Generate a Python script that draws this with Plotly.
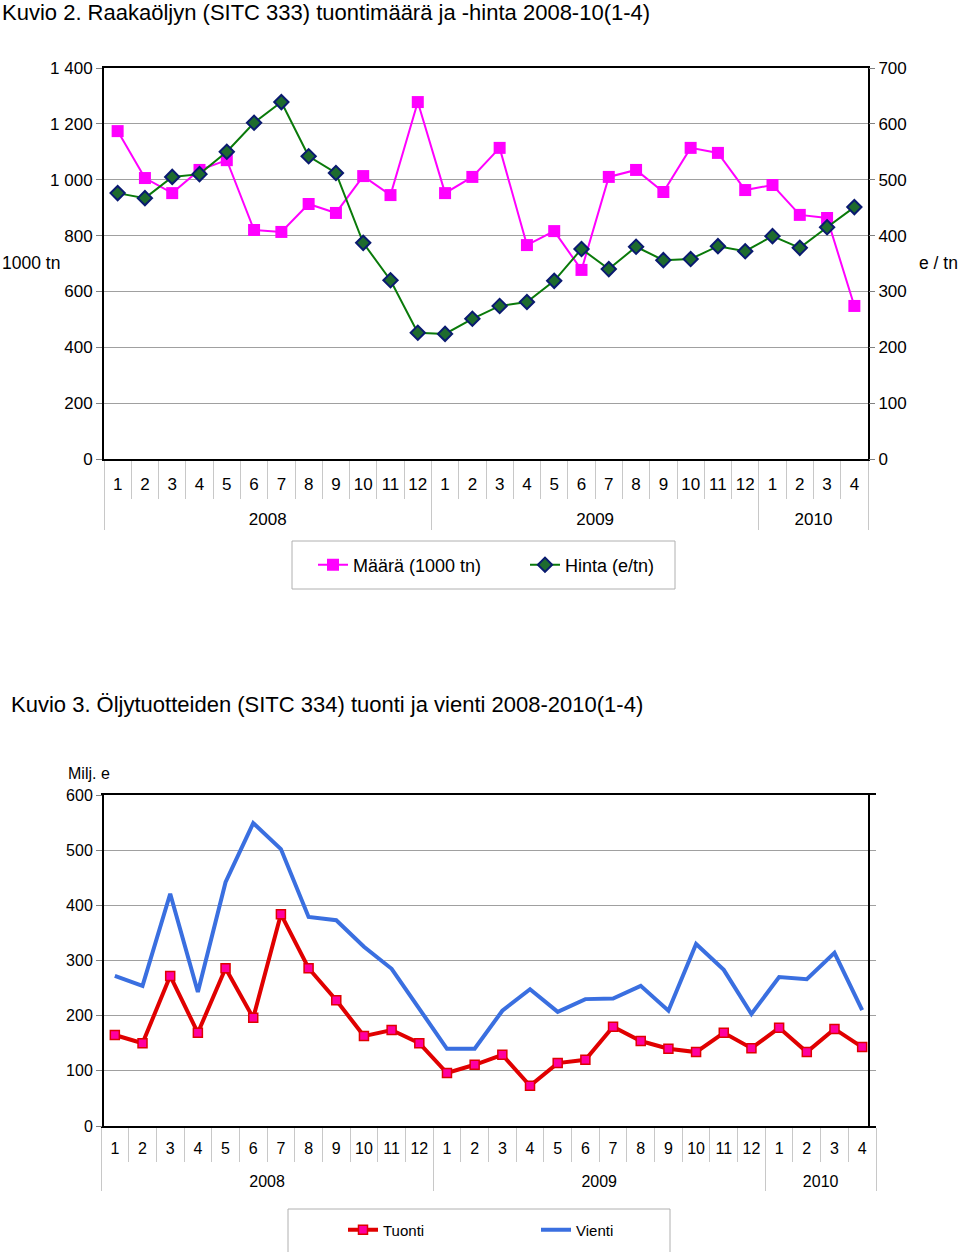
import plotly.graph_objects as go

years = ["2008"] * 12 + ["2009"] * 12 + ["2010"] * 4
months = [str(m) for m in range(1, 13)] * 2 + ["1", "2", "3", "4"]

maara = [1174, 1006, 952, 1035, 1070, 820, 813, 913, 881, 1013, 945, 1278,
         952, 1010, 1114, 766, 816, 677, 1010, 1035, 956, 1114, 1096, 963,
         981, 874, 863, 548]
hinta = [476, 467, 505, 510, 550, 602, 639, 542, 512, 387, 320, 226,
         224, 251, 274, 281, 319, 376, 340, 380, 356, 358, 381, 372,
         399, 378, 415, 451]

tuonti = [165, 150, 272, 169, 286, 196, 384, 286, 228, 163, 174, 150,
          96, 111, 129, 73, 114, 120, 180, 154, 140, 134, 169, 141,
          178, 134, 176, 143]
vienti = [272, 254, 421, 243, 442, 549, 502, 379, 373, 325, 285, 214,
          140, 140, 209, 248, 207, 230, 231, 254, 209, 330, 283, 203,
          270, 266, 314, 210]

FONT = "Liberation Sans, Arial, sans-serif"
W, H = 960, 1252
# year group labels shown one line lower (below the month row)
x = [["<br>" + y for y in years], months]


def px(v):
    return v / W


def py(v):
    return 1 - v / H


fig = go.Figure()
fig.add_trace(go.Scatter(
    x=x, y=maara, name="Määrä (1000 tn)", mode="lines+markers",
    line=dict(color="#FF00FF", width=2),
    marker=dict(symbol="square", size=12, color="#FF00FF"),
    xaxis="x", yaxis="y"))
fig.add_trace(go.Scatter(
    x=x, y=hinta, name="Hinta (e/tn)", mode="lines+markers",
    line=dict(color="#0A7A0A", width=2),
    marker=dict(symbol="diamond", size=11, color="#1E6B2E",
                line=dict(color="#0A1A70", width=2)),
    xaxis="x", yaxis="y2"))
fig.add_trace(go.Scatter(
    x=x, y=tuonti, name="Tuonti", mode="lines+markers",
    line=dict(color="#E00000", width=4),
    marker=dict(symbol="square", size=9, color="#FF00A0",
                line=dict(color="#E00000", width=1.5)),
    xaxis="x2", yaxis="y3", legend="legend2"))
fig.add_trace(go.Scatter(
    x=x, y=vienti, name="Vienti", mode="lines",
    line=dict(color="#3A6FE0", width=4),
    xaxis="x2", yaxis="y3", legend="legend2"))

xcommon = dict(type="multicategory", showline=True, linecolor="black",
               linewidth=2, mirror=True, ticks="outside", tickson="boundaries",
               ticklen=38, tickcolor="#C8C8C8", dividercolor="#C8C8C8",
               dividerwidth=1, showgrid=False, tickangle=0, automargin=False,
               range=[-0.5, 27.5], autorange=False,
               tickfont=dict(size=17, color="black"))

ycommon = dict(showgrid=True, gridcolor="#A0A0A0", gridwidth=1,
               showline=True, linecolor="black", linewidth=2, mirror=True,
               ticks="outside", ticklen=6, tickcolor="#808080",
               zeroline=False, automargin=False)

fig.update_layout(
    width=W, height=H,
    margin=dict(l=0, r=0, t=0, b=0, pad=0, autoexpand=False),
    paper_bgcolor="white", plot_bgcolor="white",
    font=dict(family=FONT, size=17, color="black"),
    separators=", ",
    showlegend=True,
    xaxis=dict(domain=[px(104), px(868)], anchor="y", ticklabelstandoff=9, **xcommon),
    yaxis=dict(domain=[py(459), py(68)], range=[0, 1400], dtick=200,
               separatethousands=True, tickfont=dict(size=17), **ycommon),
    yaxis2=dict(overlaying="y", side="right", anchor="x", range=[0, 700],
                dtick=100, showgrid=False, zeroline=False, showline=False,
                ticks="outside", ticklen=6, tickcolor="#808080",
                automargin=False, tickfont=dict(size=17)),
    xaxis2=dict(domain=[px(101), px(876)], anchor="y3", ticklabelstandoff=7,
                **{**xcommon, "ticklen": 34, "tickfont": dict(size=16, color="black")}),
    yaxis3=dict(domain=[py(1126), py(795)], range=[0, 600], dtick=100,
                tickfont=dict(size=16), **ycommon),
    legend=dict(orientation="h", x=px(313), xanchor="left", y=py(565),
                yanchor="middle", borderwidth=0, bgcolor="rgba(0,0,0,0)",
                font=dict(size=18), entrywidth=167),
    legend2=dict(orientation="h", x=px(343), xanchor="left", y=py(1230),
                 yanchor="middle", borderwidth=0, bgcolor="rgba(0,0,0,0)",
                 font=dict(size=15), entrywidth=148),
    shapes=[
        dict(type="rect", xref="paper", yref="paper",
             x0=px(292), x1=px(675), y0=py(589), y1=py(541),
             line=dict(color="#B0B0B0", width=1), layer="below"),
        dict(type="rect", xref="paper", yref="paper",
             x0=px(288), x1=px(670), y0=py(1262), y1=py(1209),
             line=dict(color="#B0B0B0", width=1), layer="below"),
    ],
)

annotations = [
    dict(text="Kuvio 2. Raakaöljyn (SITC 333) tuontimäärä ja -hinta 2008-10(1-4)",
         x=0, y=py(12), xanchor="left", yanchor="middle", font=dict(size=22)),
    dict(text="Kuvio 3. Öljytuotteiden (SITC 334) tuonti ja vienti 2008-2010(1-4)",
         x=px(9), y=py(704), xanchor="left", yanchor="middle", font=dict(size=22)),
    dict(text="1000 tn", x=0.0, y=py(263), xanchor="left", yanchor="middle",
         font=dict(size=17.5)),
    dict(text="e / tn", x=1.0, y=py(263), xanchor="right", yanchor="middle",
         font=dict(size=17.5)),
    dict(text="Milj. e", x=px(66), y=py(773), xanchor="left", yanchor="middle",
         font=dict(size=16)),
]
for a in annotations:
    a.update(xref="paper", yref="paper", showarrow=False)
fig.update_layout(annotations=annotations)

fig.write_html("out.html", config={"displayModeBar": False},
               post_script="document.body.style.margin='0';")
